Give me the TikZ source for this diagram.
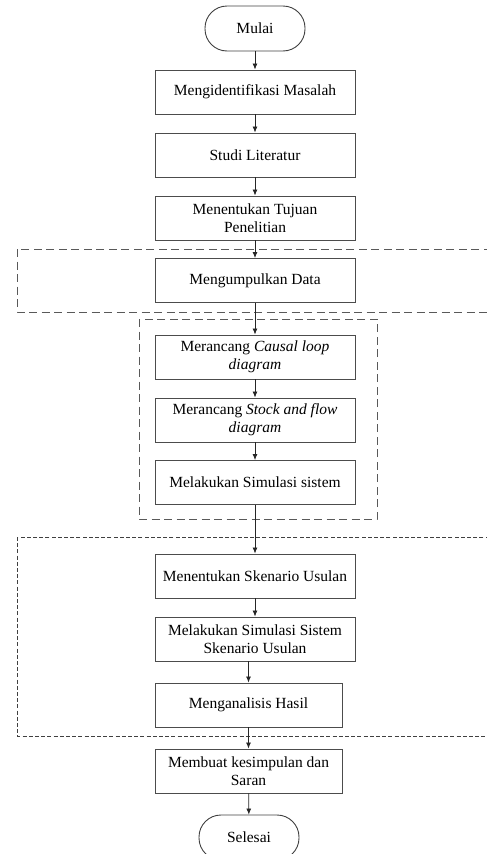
\documentclass[tikz,border=0pt]{standalone}
\usepackage{fontspec}
\setmainfont{Liberation Serif}
\usetikzlibrary{arrows.meta}
\begin{document}
\begin{tikzpicture}[x=1pt,y=-1pt,
  txt/.style={font=\fontsize{15.5}{18}\selectfont},
  proc/.style={txt,draw=black!70,line width=0.9pt,minimum width=200pt,
    minimum height=44pt,align=center,inner sep=2pt},
  procn/.style={proc,minimum width=187pt},
  term/.style={txt,draw=black!75,line width=0.9pt,minimum width=100pt,
    minimum height=45pt,rounded corners=22pt,inner sep=2pt},
  grpwide/.style={draw=black!65,line width=0.9pt,dash pattern=on 8pt off 4.5pt},
  grpfine/.style={draw=black!75,line width=0.7pt,dash pattern=on 4pt off 2.2pt},
  flow/.style={draw=black!85,line width=0.8pt,-{Latex[length=6pt,width=5pt]}}
]
\useasboundingbox (0,0) rectangle (487,854);

% grouping frames
\draw[grpwide] (17,249) rectangle (510,312);
\draw[grpwide] (139,319) rectangle (377,519);
\draw[grpfine] (17,537) rectangle (510,736);

% steps
\node[term] (start) at (255,28.5) {Mulai};
\node[proc] (s1) at (255,92) {Mengidentifikasi Masalah};
\node[proc] (s2) at (255,155) {Studi Literatur};
\node[proc] (s3) at (255,218) {Menentukan Tujuan\\Penelitian};
\node[proc] (s4) at (255,280.5) {Mengumpulkan Data};
\node[proc] (s5) at (255,357) {Merancang \textit{Causal loop}\\\textit{diagram}};
\node[proc] (s6) at (255,420) {Merancang \textit{Stock and flow}\\\textit{diagram}};
\node[proc] (s7) at (255,482.5) {Melakukan Simulasi sistem};
\node[proc] (s8) at (255,576) {Menentukan Skenario Usulan};
\node[proc] (s9) at (255,639) {Melakukan Simulasi Sistem\\Skenario Usulan};
\node[procn] (s10) at (248.5,705) {Menganalisis Hasil};
\node[procn] (s11) at (248.5,771) {Membuat kesimpulan dan\\Saran};
\node[term] (stop) at (249,837.5) {Selesai};

% connectors
\draw[flow] (start) -- (s1);
\draw[flow] (s1) -- (s2);
\draw[flow] (s2) -- (s3);
\draw[flow] (s3) -- (s4);
\draw[flow] (s4) -- (s5);
\draw[flow] (s5) -- (s6);
\draw[flow] (s6) -- (s7);
\draw[flow] (s7) -- (s8);
\draw[flow] (s8) -- (s9);
\draw[flow] (s10.north |- s9.south) -- (s10.north);
\draw[flow] (s10) -- (s11);
\draw[flow] (s11) -- (stop);
\end{tikzpicture}
\end{document}
